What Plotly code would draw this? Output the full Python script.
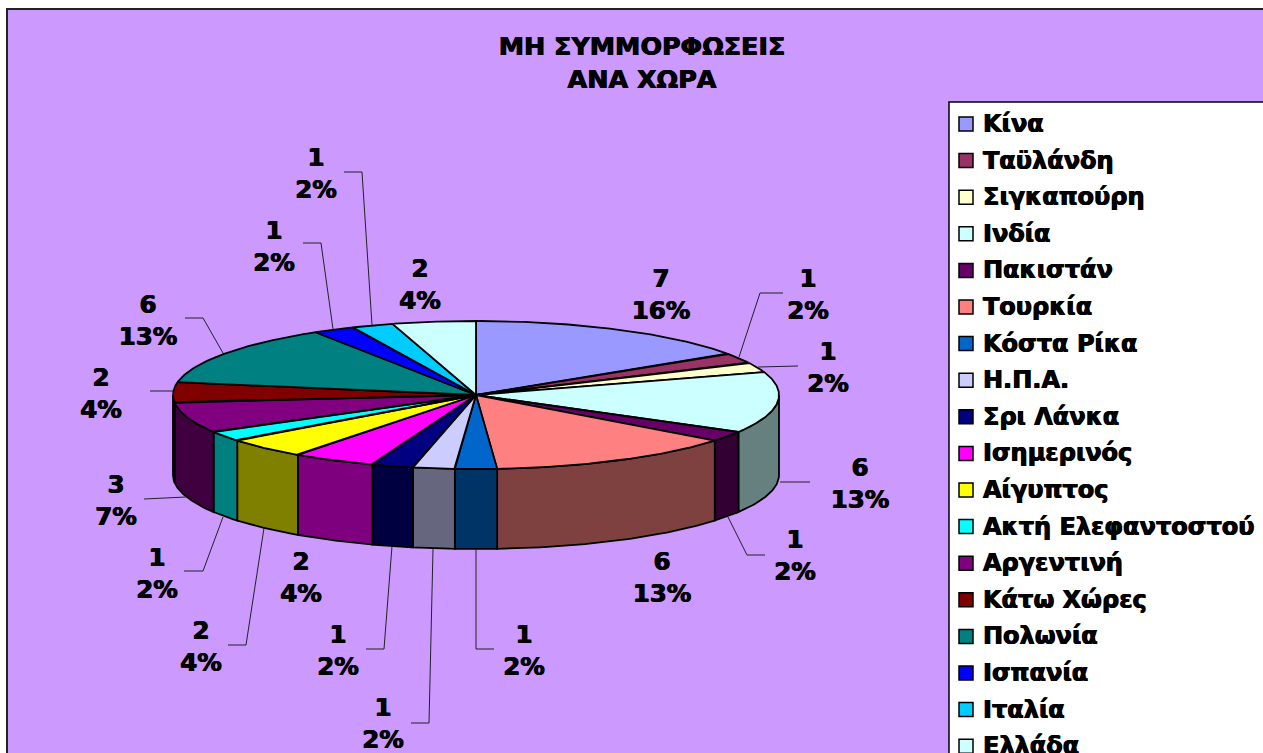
import numpy as np
import plotly.graph_objects as go

# ---- data ----
countries = ["Κίνα", "Ταϋλάνδη", "Σιγκαπούρη", "Ινδία", "Πακιστάν", "Τουρκία", "Κόστα Ρίκα", "Η.Π.Α.",
             "Σρι Λάνκα", "Ισημερινός", "Αίγυπτος", "Ακτή Ελεφαντοστού", "Αργεντινή", "Κάτω Χώρες",
             "Πολωνία", "Ισπανία", "Ιταλία", "Ελλάδα"]
values = [7, 1, 1, 6, 1, 6, 1, 1, 1, 2, 2, 1, 3, 2, 6, 1, 1, 2]
title_lines = ["ΜΗ ΣΥΜΜΟΡΦΩΣΕΙΣ", "ΑΝΑ ΧΩΡΑ"]

# ---- styles ----
colors = ["#9999FF", "#993366", "#FFFFCC", "#CCFFFF", "#660066", "#FF8080", "#0066CC", "#CCCCFF",
          "#000080", "#FF00FF", "#FFFF00", "#00FFFF", "#800080", "#800000", "#008080", "#0000FF",
          "#00CCFF", "#CCFFFF"]
FONT = "DejaVu Sans"
PURPLE = "#CC99FF"
HEAVY = "0.5px 0 0 black, -0.5px 0 0 black"

# ---- layout geometry (page pixels) ----
CX, CY, RX, RY, DEPTH = 476, 395, 303, 74, 80
label_xy = [(661, 297), (808, 297), (828, 370), (860, 486), (795, 558), (662, 580), (524, 653), (383, 726),
            (338, 653), (301, 580), (201, 649), (157, 576), (116, 503), (101, 396), (148, 323), (274, 249),
            (316, 176), (420, 287)]
leaders = [None,
           [(739, 357), (760, 293), (783, 293)],
           [(758, 367), (798, 366)],
           [(780, 482), (810, 482)],
           [(728, 517), (747, 555), (765, 555)],
           None,
           [(476, 549), (476, 649), (494, 649)],
           [(433, 549), (429, 723), (411, 723)],
           [(392, 546), (384, 649), (366, 649)],
           None,
           [(264, 528), (246, 645), (228, 645)],
           [(223, 517), (203, 571), (184, 571)],
           [(186, 497), (144, 499)],
           [(173, 391), (150, 391)],
           [(223, 353), (203, 318), (185, 318)],
           [(333, 329), (321, 243), (303, 243)],
           [(372, 325), (362, 172), (344, 172)],
           None]


def darker(c):
    r, g, b = (int(c[i:i + 2], 16) // 2 for i in (1, 3, 5))
    return f"rgb({r},{g},{b})"


def ex(a):
    return CX + RX * np.sin(np.radians(a))


def ey(a):
    return CY - RY * np.cos(np.radians(a))


total = sum(values)
edges = np.cumsum([0] + values) / total * 360.0
fig = go.Figure()

# side walls (only the part of the rim that faces the viewer)
for i, c in enumerate(colors):
    a0, a1 = max(edges[i], 90.0), min(edges[i + 1], 270.0)
    if a1 <= a0:
        continue
    t = np.linspace(a0, a1, 60)
    xs = np.concatenate([ex(t), ex(t[::-1]), ex(t[:1])])
    ys = np.concatenate([ey(t), ey(t[::-1]) + DEPTH, ey(t[:1])])
    fig.add_trace(go.Scatter(x=xs, y=ys, mode="lines", fill="toself", fillcolor=darker(c),
                             line=dict(color="black", width=1.8), hoverinfo="skip"))

# top faces
for i, c in enumerate(colors):
    t = np.linspace(edges[i], edges[i + 1], 80)
    xs = np.concatenate([[CX], ex(t), [CX]])
    ys = np.concatenate([[CY], ey(t), [CY]])
    fig.add_trace(go.Scatter(x=xs, y=ys, mode="lines", fill="toself", fillcolor=c,
                             line=dict(color="black", width=1.8), name=countries[i], hoverinfo="skip"))

# leader lines
for pts in leaders:
    if pts:
        fig.add_trace(go.Scatter(x=[p[0] for p in pts], y=[p[1] for p in pts], mode="lines",
                                 line=dict(color="#222222", width=1), hoverinfo="skip"))

# data labels
fig.add_trace(go.Scatter(
    x=[p[0] for p in label_xy], y=[p[1] for p in label_xy], mode="text",
    text=[f"{v}<br>{round(v / total * 100)}%" for v in values],
    textposition="middle center",
    textfont=dict(family=FONT, size=24.5, color="black", weight=700, shadow=HEAVY),
    hoverinfo="skip"))

# legend
ly = [124 + 36.6 * i for i in range(len(countries))]
fig.add_trace(go.Scatter(
    x=[966] * len(countries), y=ly, mode="markers", hoverinfo="skip",
    marker=dict(symbol="square", size=14, color=colors, line=dict(color="black", width=1.5))))
fig.add_trace(go.Scatter(
    x=[983] * len(countries), y=[v + 2 for v in ly], mode="text", text=countries,
    hoverinfo="skip", textposition="middle right",
    textfont=dict(family=FONT, size=24, color="black", weight=700, shadow=HEAVY)))

fig.update_layout(
    width=1263, height=753, autosize=False, showlegend=False,
    margin=dict(l=0, r=0, t=0, b=0),
    paper_bgcolor="white", plot_bgcolor="white",
    title=dict(
        text="<br>".join(title_lines),
        x=642 / 1263, xanchor="center", y=1 - 55 / 753, yanchor="top",
        font=dict(family=FONT, size=25.4, color="black", weight=700, shadow=HEAVY)),
    xaxis=dict(range=[0, 1263], visible=False, fixedrange=True),
    yaxis=dict(range=[753, 0], visible=False, fixedrange=True),
    shapes=[
        dict(type="rect", layer="below", x0=7, y0=9, x1=1300, y1=800, fillcolor=PURPLE,
             line=dict(color="#222222", width=2)),
        dict(type="rect", layer="below", x0=949, y0=102, x1=1300, y1=800, fillcolor="white",
             line=dict(color="black", width=1.5)),
    ],
)
fig.write_html("out.html", config=dict(displayModeBar=False),
               post_script="document.body.style.margin='0';document.body.style.overflow='hidden';")
